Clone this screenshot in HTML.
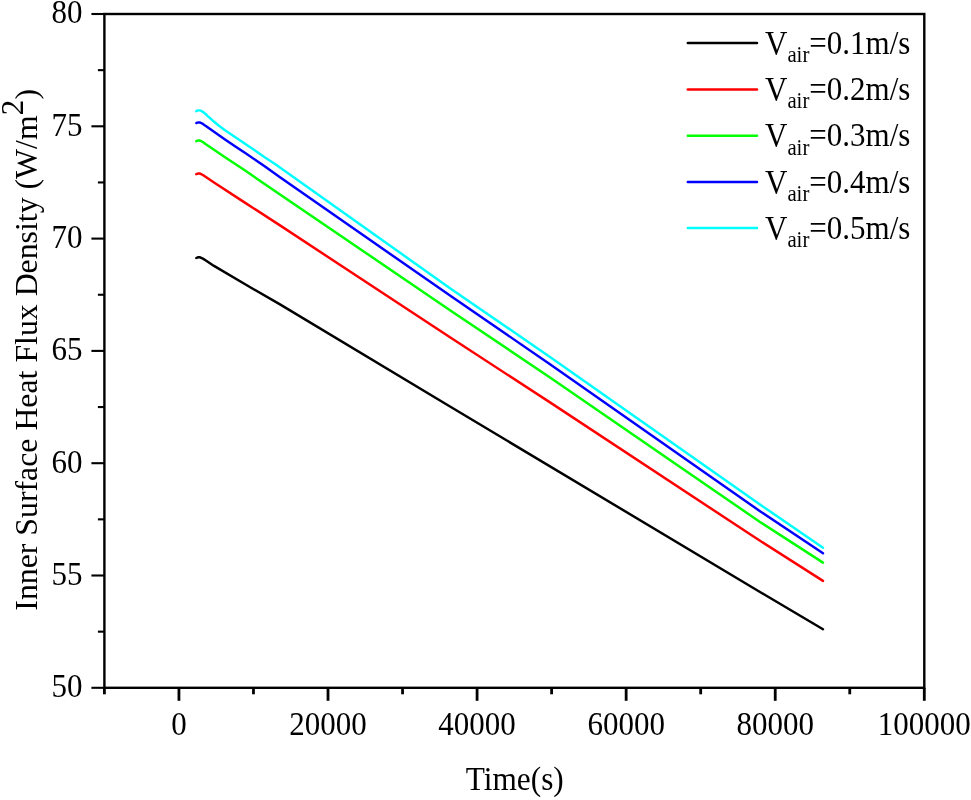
<!DOCTYPE html>
<html lang="en">
<head>
<meta charset="utf-8">
<title>Inner Surface Heat Flux Density</title>
<style>
html,body{margin:0;padding:0;background:#fff;}
body{width:971px;height:800px;overflow:hidden;}
svg{display:block;}
text{font-family:"Liberation Serif","Times New Roman",serif;fill:#000;}
.tk{font-size:31px;}
.lg{font-size:31px;}
.sub{font-size:20.8px;}
.sup{font-size:31px;}
.ti{font-size:31.8px;}
</style>
</head>
<body>
<svg width="971" height="800" viewBox="0 0 971 800">
<rect x="0" y="0" width="971" height="800" fill="#ffffff"/>
<rect x="104.4" y="14.0" width="819.90" height="673.80" fill="none" stroke="#000" stroke-width="2.4"/>
<line x1="91.40" y1="687.80" x2="104.40" y2="687.80" stroke="#000" stroke-width="2.1"/>
<text class="tk" transform="translate(82.6,697.20) scale(1,1.065)" text-anchor="end">50</text>
<line x1="91.40" y1="575.50" x2="104.40" y2="575.50" stroke="#000" stroke-width="2.1"/>
<text class="tk" transform="translate(82.6,584.90) scale(1,1.065)" text-anchor="end">55</text>
<line x1="91.40" y1="463.20" x2="104.40" y2="463.20" stroke="#000" stroke-width="2.1"/>
<text class="tk" transform="translate(82.6,472.60) scale(1,1.065)" text-anchor="end">60</text>
<line x1="91.40" y1="350.90" x2="104.40" y2="350.90" stroke="#000" stroke-width="2.1"/>
<text class="tk" transform="translate(82.6,360.30) scale(1,1.065)" text-anchor="end">65</text>
<line x1="91.40" y1="238.60" x2="104.40" y2="238.60" stroke="#000" stroke-width="2.1"/>
<text class="tk" transform="translate(82.6,248.00) scale(1,1.065)" text-anchor="end">70</text>
<line x1="91.40" y1="126.30" x2="104.40" y2="126.30" stroke="#000" stroke-width="2.1"/>
<text class="tk" transform="translate(82.6,135.70) scale(1,1.065)" text-anchor="end">75</text>
<line x1="91.40" y1="14.00" x2="104.40" y2="14.00" stroke="#000" stroke-width="2.1"/>
<text class="tk" transform="translate(82.6,23.40) scale(1,1.065)" text-anchor="end">80</text>
<line x1="97.90" y1="631.65" x2="104.40" y2="631.65" stroke="#000" stroke-width="2.1"/>
<line x1="97.90" y1="519.35" x2="104.40" y2="519.35" stroke="#000" stroke-width="2.1"/>
<line x1="97.90" y1="407.05" x2="104.40" y2="407.05" stroke="#000" stroke-width="2.1"/>
<line x1="97.90" y1="294.75" x2="104.40" y2="294.75" stroke="#000" stroke-width="2.1"/>
<line x1="97.90" y1="182.45" x2="104.40" y2="182.45" stroke="#000" stroke-width="2.1"/>
<line x1="97.90" y1="70.15" x2="104.40" y2="70.15" stroke="#000" stroke-width="2.1"/>
<line x1="178.94" y1="687.80" x2="178.94" y2="700.80" stroke="#000" stroke-width="2.8"/>
<text class="tk" transform="translate(178.94,734.9) scale(1,1.065)" text-anchor="middle">0</text>
<line x1="328.01" y1="687.80" x2="328.01" y2="700.80" stroke="#000" stroke-width="2.8"/>
<text class="tk" transform="translate(328.01,734.9) scale(1,1.065)" text-anchor="middle">20000</text>
<line x1="477.08" y1="687.80" x2="477.08" y2="700.80" stroke="#000" stroke-width="2.8"/>
<text class="tk" transform="translate(477.08,734.9) scale(1,1.065)" text-anchor="middle">40000</text>
<line x1="626.15" y1="687.80" x2="626.15" y2="700.80" stroke="#000" stroke-width="2.8"/>
<text class="tk" transform="translate(626.15,734.9) scale(1,1.065)" text-anchor="middle">60000</text>
<line x1="775.23" y1="687.80" x2="775.23" y2="700.80" stroke="#000" stroke-width="2.8"/>
<text class="tk" transform="translate(775.23,734.9) scale(1,1.065)" text-anchor="middle">80000</text>
<line x1="924.30" y1="687.80" x2="924.30" y2="700.80" stroke="#000" stroke-width="2.8"/>
<text class="tk" transform="translate(924.30,734.9) scale(1,1.065)" text-anchor="middle">100000</text>
<line x1="104.40" y1="687.80" x2="104.40" y2="694.30" stroke="#000" stroke-width="2.8"/>
<line x1="253.47" y1="687.80" x2="253.47" y2="694.30" stroke="#000" stroke-width="2.8"/>
<line x1="402.55" y1="687.80" x2="402.55" y2="694.30" stroke="#000" stroke-width="2.8"/>
<line x1="551.62" y1="687.80" x2="551.62" y2="694.30" stroke="#000" stroke-width="2.8"/>
<line x1="700.69" y1="687.80" x2="700.69" y2="694.30" stroke="#000" stroke-width="2.8"/>
<line x1="849.76" y1="687.80" x2="849.76" y2="694.30" stroke="#000" stroke-width="2.8"/>
<polyline points="196.3,258.0 197.3,257.55 198.4,257.32 199.5,257.32 200.6,257.54 202.9,258.61 205.5,260.31 214,265.9 246,284.8 280,304.4 450,406.5 760,592.0 823,629.2" fill="none" stroke="#000000" stroke-width="2.45" stroke-linecap="round" stroke-linejoin="round"/>
<polyline points="196.3,174.2 197.3,173.75 198.4,173.52 199.5,173.52 200.6,173.79 202.9,174.97 205.5,176.84 214,182.5 246,203.4 280,225.4 450,337.3 550,402.4 760,540.8 823,580.9" fill="none" stroke="#ff0000" stroke-width="2.45" stroke-linecap="round" stroke-linejoin="round"/>
<polyline points="196.3,141.2 197.3,140.75 198.4,140.52 199.5,140.52 200.6,140.81 202.9,142.03 205.5,143.96 214,149.7 225,157.2 244,169.8 280,194.5 450,310.2 550,377.4 760,522.0 823,562.6" fill="none" stroke="#00ff00" stroke-width="2.45" stroke-linecap="round" stroke-linejoin="round"/>
<polyline points="196.3,123.1 197.3,122.65 198.4,122.42 199.5,122.42 200.6,122.71 202.9,123.93 205.5,125.86 214,131.8 225,139.5 235,146.3 246,153.6 265,166.5 280,177.2 450,295.6 550,364.2 760,511.2 823,553.3" fill="none" stroke="#0000ff" stroke-width="2.45" stroke-linecap="round" stroke-linejoin="round"/>
<polyline points="196.3,111.1 197.3,110.6 198.4,110.35 199.5,110.35 200.6,110.7 202.9,111.8 205.5,114.0 208,116.4 213.2,121.0 218.3,125.3 225,130.2 235,136.9 245,143.75 255,150.6 265,157.4 275,164.0 281,168.3 450,288.2 550,357.0 760,504.5 823,547.7" fill="none" stroke="#00ffff" stroke-width="2.45" stroke-linecap="round" stroke-linejoin="round"/>
<line x1="687.8" y1="43.1" x2="757" y2="43.1" stroke="#000000" stroke-width="2.5" stroke-linecap="round"/>
<text class="lg" transform="translate(765,53.7) scale(1,1.06)">V<tspan class="sub" dy="7.8">air</tspan><tspan dy="-7.8">=0.1m/s</tspan></text>
<line x1="687.8" y1="89.6" x2="757" y2="89.6" stroke="#ff0000" stroke-width="2.5" stroke-linecap="round"/>
<text class="lg" transform="translate(765,100.2) scale(1,1.06)">V<tspan class="sub" dy="7.8">air</tspan><tspan dy="-7.8">=0.2m/s</tspan></text>
<line x1="687.8" y1="135.8" x2="757" y2="135.8" stroke="#00ff00" stroke-width="2.5" stroke-linecap="round"/>
<text class="lg" transform="translate(765,146.4) scale(1,1.06)">V<tspan class="sub" dy="7.8">air</tspan><tspan dy="-7.8">=0.3m/s</tspan></text>
<line x1="687.8" y1="182.0" x2="757" y2="182.0" stroke="#0000ff" stroke-width="2.5" stroke-linecap="round"/>
<text class="lg" transform="translate(765,192.6) scale(1,1.06)">V<tspan class="sub" dy="7.8">air</tspan><tspan dy="-7.8">=0.4m/s</tspan></text>
<line x1="687.8" y1="228.1" x2="757" y2="228.1" stroke="#00ffff" stroke-width="2.5" stroke-linecap="round"/>
<text class="lg" transform="translate(765,238.7) scale(1,1.06)">V<tspan class="sub" dy="7.8">air</tspan><tspan dy="-7.8">=0.5m/s</tspan></text>
<text class="ti" style="font-size:31.3px" transform="translate(514.8,789.6) scale(1,1.06)" text-anchor="middle">Time(s)</text>
<text class="ti" transform="translate(37.3,349.8) rotate(-90)" text-anchor="middle">Inner Surface Heat Flux Density (W/m<tspan class="sup" dy="-14">2</tspan><tspan dy="14" dx="0.3">)</tspan></text>
</svg>
</body>
</html>
